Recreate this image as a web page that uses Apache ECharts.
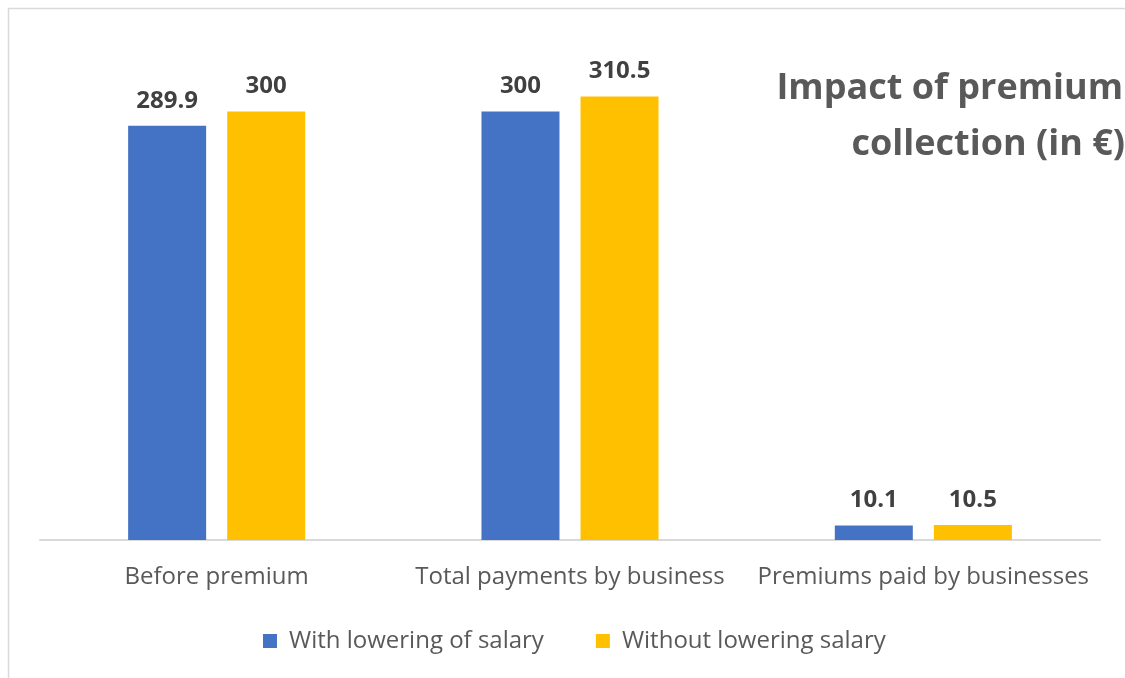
<!DOCTYPE html>
<html><head><meta charset="utf-8">
<script src="https://cdn.jsdelivr.net/npm/echarts@6/dist/echarts.min.js"></script>
<style>html,body{margin:0;padding:0;background:#fff}#c{width:1125px;height:678px}</style>
</head><body><div id="c"></div>
<script>
const categories = ['Before premium', 'Total payments by business', 'Premiums paid by businesses'];
const withLowering = [289.9, 300, 10.1];
const withoutLowering = [300, 310.5, 10.5];
const seriesNames = ['With lowering of salary', 'Without lowering salary'];
const titleLines = ['Impact of premium', 'collection (in €)'];

const chart = echarts.init(document.getElementById('c'));
const font = '"Open Sans", "Noto Sans", sans-serif';
const labelStyle = {show: true, position: 'top', distance: 13, fontFamily: font, fontWeight: 'bold', fontSize: 24, color: '#404040'};
chart.setOption({
  animation: false,
  graphic: [
    {type: 'rect', shape: {x: 8.5, y: 8.5, width: 1200, height: 800}, style: {fill: 'none', stroke: '#d9d9d9', lineWidth: 1.5}, silent: true},
    {type: 'text', x: 1123, y: 89, style: {text: titleLines[0], textAlign: 'right', textVerticalAlign: 'middle', font: 'bold 36px ' + font, fill: '#595959'}},
    {type: 'text', x: 1125, y: 145, style: {text: titleLines[1], textAlign: 'right', textVerticalAlign: 'middle', font: 'bold 36px ' + font, fill: '#595959'}}
  ],
  legend: {
    top: 624, left: 258, itemWidth: 14, itemHeight: 14, itemGap: 52, icon: 'rect',
    textStyle: {fontFamily: font, fontSize: 24, color: '#595959', padding: [0, 0, 0, 7]},
    data: seriesNames
  },
  grid: {left: 40, right: 25, top: 40, bottom: 138},
  xAxis: {
    type: 'category', data: categories,
    axisLine: {lineStyle: {color: '#d9d9d9', width: 2}},
    axisTick: {show: false},
    axisLabel: {interval: 0, fontFamily: font, fontSize: 24, color: '#595959', margin: 25}
  },
  yAxis: {type: 'value', min: 0, max: 350, show: false, splitLine: {show: false}},
  series: [
    {name: seriesNames[0], type: 'bar', data: withLowering, barWidth: 78, barGap: '27%', itemStyle: {color: '#4472C4'}, label: labelStyle},
    {name: seriesNames[1], type: 'bar', data: withoutLowering, barWidth: 78, itemStyle: {color: '#FFC000'}, label: labelStyle}
  ]
});
</script></body></html>
